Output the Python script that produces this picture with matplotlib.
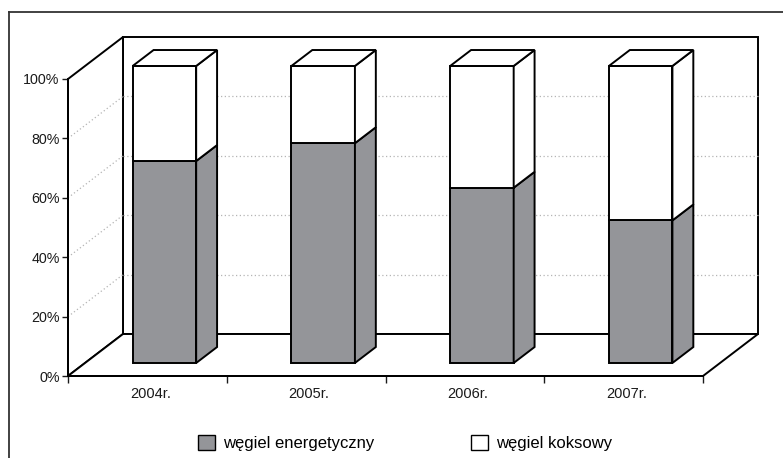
import numpy as np
import matplotlib

matplotlib.use("Agg")
import matplotlib.pyplot as plt
from matplotlib.patches import Polygon, Patch
from matplotlib.transforms import IdentityTransform, ScaledTranslation

years = ["2004r.", "2005r.", "2006r.", "2007r."]
energetyczny = [68, 74, 59, 48]
koksowy = [32, 26, 41, 52]
y_ticks = [0, 20, 40, 60, 80, 100]

GRAY = "#949599"
DEPTH_DX, DEPTH_DY = 55, 42  # depth offset of the back wall, pixels
BAR_FRONT, BAR_BACK = 0.31, 0.69
BAR_WIDTH = 0.4

plt.rcParams["font.family"] = ["Liberation Sans", "DejaVu Sans"]

W, H = 783, 458
fig = plt.figure(figsize=(W / 100, H / 100), dpi=100)
ax = fig.add_axes([68 / W, 1 - 376 / H, (703 - 68) / W, (376 - 79) / H])
ax.set_xlim(0, len(years))
ax.set_ylim(0, 100)
ax.patch.set_visible(False)
for side in ["top", "right"]:
    ax.spines[side].set_visible(False)
for side in ["left", "bottom"]:
    ax.spines[side].set_linewidth(1.4)
    ax.spines[side].set_zorder(5)

ax.set_yticks(y_ticks)
ax.set_yticklabels([f"{t}%" for t in y_ticks], fontsize=10.3)
ax.set_xticks(np.arange(len(years) + 1))
ax.set_xticklabels([])
ax.set_xticks(np.arange(len(years)) + 0.5, minor=True)
ax.set_xticklabels(years, minor=True, fontsize=10.5)
ax.tick_params(axis="y", length=4, width=1.0, pad=2, colors="#1a1a1a")
ax.tick_params(axis="x", which="major", length=5, width=1.0, colors="#1a1a1a")
ax.tick_params(axis="x", which="minor", length=0, pad=8, colors="#1a1a1a")
# labels sit a little right of the category centre, as in the original
shift = ScaledTranslation(3 / 100, 0, fig.dpi_scale_trans)
for lab in ax.get_xticklabels(minor=True):
    lab.set_transform(lab.get_transform() + shift)


def proj(x, y, d):
    px, py = ax.transData.transform((x, y))
    return (px + d * DEPTH_DX, py + d * DEPTH_DY)


def poly(points, face, lw=1.4, z=2, edge="black"):
    ax.add_patch(
        Polygon(
            [proj(*p) for p in points],
            closed=True,
            facecolor=face,
            edgecolor=edge,
            linewidth=lw,
            transform=IdentityTransform(),
            clip_on=False,
            zorder=z,
            joinstyle="miter",
        )
    )


def line(p0, p1, **kw):
    a, b = proj(*p0), proj(*p1)
    ax.plot([a[0], b[0]], [a[1], b[1]], transform=IdentityTransform(), clip_on=False, **kw)


n = len(years)
# walls and floor
poly([(0, 0, 1), (n, 0, 1), (n, 100, 1), (0, 100, 1)], "white", z=1)
poly([(0, 0, 0), (0, 0, 1), (0, 100, 1), (0, 100, 0)], "white", z=1)
poly([(0, 0, 0), (n, 0, 0), (n, 0, 1), (0, 0, 1)], "white", z=1)

# dotted gridlines on back and side walls
for t in y_ticks[1:-1]:
    line((0, t, 1), (n, t, 1), color="#b5b5b5", lw=0.9, ls=(0, (1, 2)), zorder=1.5)
    line((0, t, 0), (0, t, 1), color="#b5b5b5", lw=0.9, ls=(0, (1, 2)), zorder=1.5)

# 3D stacked bars
for i in range(n):
    x0 = i + 0.5 - BAR_WIDTH / 2
    x1 = i + 0.5 + BAR_WIDTH / 2
    lo = energetyczny[i]
    hi = energetyczny[i] + koksowy[i]
    for y0, y1, color in [(0, lo, GRAY), (lo, hi, "white")]:
        poly([(x0, y0, BAR_FRONT), (x1, y0, BAR_FRONT), (x1, y1, BAR_FRONT), (x0, y1, BAR_FRONT)], color, z=3)
        poly([(x1, y0, BAR_FRONT), (x1, y0, BAR_BACK), (x1, y1, BAR_BACK), (x1, y1, BAR_FRONT)], color, z=3)
    poly([(x0, hi, BAR_FRONT), (x1, hi, BAR_FRONT), (x1, hi, BAR_BACK), (x0, hi, BAR_BACK)], "white", z=3)

# outer chart frame
fig.add_artist(plt.Line2D([8.5 / W, 8.5 / W], [0, 1 - 12 / H], color="#333333", lw=1.3))
fig.add_artist(plt.Line2D([8.5 / W, 1], [1 - 12 / H, 1 - 12 / H], color="#333333", lw=1.3))

handles = [
    Patch(facecolor=GRAY, edgecolor="black", linewidth=1.0, label="węgiel energetyczny"),
    Patch(facecolor="white", edgecolor="black", linewidth=1.0, label="węgiel koksowy"),
]
fig.legend(
    handles=handles,
    loc="center",
    bbox_to_anchor=(405 / W, 1 - 443 / H),
    ncol=2,
    frameon=False,
    fontsize=12,
    handlelength=1.0,
    handleheight=1.0,
    handletextpad=0.5,
    columnspacing=5.8,
)

fig.savefig("out.png", dpi=100)
